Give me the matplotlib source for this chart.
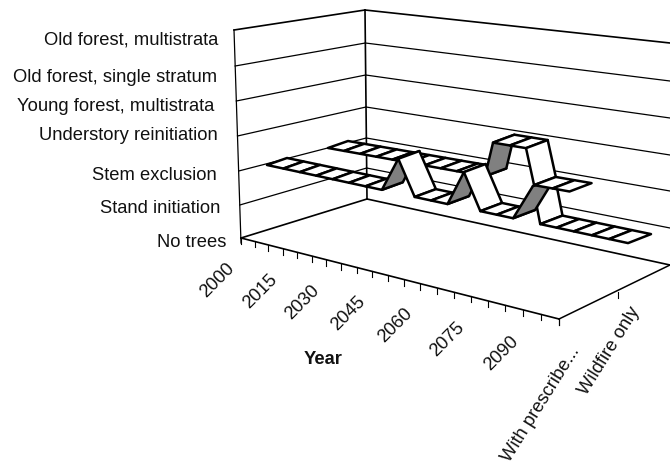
import matplotlib
matplotlib.use("Agg")
import matplotlib.pyplot as plt
import numpy as np

plt.rcParams['font.family'] = ['Liberation Sans', 'DejaVu Sans']

# successional stage per step, 2 = stem exclusion, 3 = understory reinitiation
stages = ["No trees", "Stand initiation", "Stem exclusion", "Understory reinitiation",
          "Young forest, multistrata", "Old forest, single stratum", "Old forest, multistrata"]
year_labels = ["2000", "2015", "2030", "2045", "2060", "2075", "2090"]
series_labels = ["With prescribe...", "Wildfire only"]
prescribed = [2, 2, 2, 2, 2, 2, 2, 2, 3, 2, 2, 2, 3, 2, 2, 2, 3, 2, 2, 2, 2, 2, 2]
prescribed_steps = [0, 1, 2, 3, 4, 5, 6, 7, 8, 9, 10, 11, 12, 13, 14, 15, 16.2, 16.65, 17.65, 18.7, 19.8, 20.85, 22]
wildfire = [2, 2, 2, 2, 2, 2, 2, 2, 2, 2, 3, 3, 3, 2, 2, 2]
wildfire_steps = [0, 1, 2, 3, 4, 5, 6, 7, 8, 9.75, 10.25, 11.3, 12.3, 12.8, 13.95, 15]

# layout of the fake 3d box, in pixels
left_y = [238, 205, 171, 136, 101, 66, 30]
back_y = [199, 168, 138, 107, 75, 43, 10]
right_y = [265, 228, 191, 155, 118, 81, 43]
stage_pos = [(226, 242), (220, 208), (217, 175), (218, 135), (214, 106), (217, 77), (218, 40)]
year_pos = [(217, 280), (260, 291), (302, 302), (348, 313), (395, 325), (447, 339), (501, 353)]
series_pos = [(541, 404), (609, 351)]
FS = 13.2


def ribbon(levels, steps, x0, y0, xstep, ystep):
    # quads of one ribbon, painted from first step to last
    quads = []
    for i in range(len(levels) - 1):
        pts = []
        for k, back in [(i, 0), (i + 1, 0), (i + 1, 1), (i, 1)]:
            s = steps[k]
            t = s / 22
            h = 33 + 4.5 * t
            x = x0 + xstep * s + back * (20 + 3 * t)
            y = y0 + ystep * s - (levels[k] - 2) * h - back * (7 + 2 * t)
            pts.append((x, y))
        rising = levels[i + 1] > levels[i]
        quads.append((pts, "#808080" if rising else "white"))
    return quads


fig = plt.figure(figsize=(6.7, 4.65), dpi=100)
ax = fig.add_axes([0, 0, 1, 1])
ax.set_xlim(0, 670)
ax.set_ylim(465, 0)
ax.axis("off")

# walls
for lev in range(7):
    lw = 1.2 if lev in (0, 6) else 0.9
    xl = 241 - 7 * lev / 6
    xb = 367 - 2 * lev / 6
    ax.plot([xl, xb], [left_y[lev], back_y[lev]], color="black", lw=lw, zorder=1)
    ax.plot([xb, 670], [back_y[lev], right_y[lev]], color="black", lw=lw, zorder=1)
ax.plot([241, 234], [243, 30], color="black", lw=0.9, zorder=1)
ax.plot([367, 365], [199, 10], color="black", lw=1.2, zorder=1)

# floor
ax.plot([241, 559], [238, 319], color="black", lw=1.2, zorder=1)
ax.plot([559, 670], [319, 265], color="black", lw=1.1, zorder=1)

# ticks
for k in range(21):
    x = 241 + 13.5 * k + 0.12 * k ** 2
    y = 238 + (x - 241) * 81 / 318
    ax.plot([x, x], [y, y + 6], color="black", lw=0.8, zorder=1)
for x, y in [(559, 319), (618, 292)]:
    ax.plot([x, x], [y, y + 6], color="black", lw=0.8, zorder=1)

# ribbons, the last part of the back one sits over the front one
back_quads = ribbon(wildfire, wildfire_steps, 328, 148, 16.1, 2.9)
front_quads = ribbon(prescribed, prescribed_steps, 267, 165, 16.41, 3.55)
# last grey face is painted over the drop that follows it
front_quads[15], front_quads[16] = front_quads[16], front_quads[15]
for pts, col in back_quads[:12]:
    ax.fill(*zip(*pts), facecolor=col, edgecolor="black", lw=1.8, joinstyle="round", zorder=2)
for pts, col in front_quads:
    ax.fill(*zip(*pts), facecolor=col, edgecolor="black", lw=1.8, joinstyle="round", zorder=3)
for pts, col in back_quads[12:]:
    ax.fill(*zip(*pts), facecolor=col, edgecolor="black", lw=1.8, joinstyle="round", zorder=4)

# text
for lab, (x, y) in zip(stages, stage_pos):
    ax.text(x, y, lab, ha="right", va="center", fontsize=FS, color="#111111")
for lab, (x, y) in zip(year_labels, year_pos):
    ax.text(x, y, lab, ha="center", va="center", rotation=45, rotation_mode="anchor", fontsize=FS, color="#111111")
for lab, (x, y) in zip(series_labels, series_pos):
    ax.text(x, y, lab, ha="center", va="center", rotation=58, rotation_mode="anchor", fontsize=FS, color="#111111")
ax.text(323, 359, "Year", ha="center", va="center", fontweight="bold", fontsize=FS, color="#111111")

fig.savefig("out.png", dpi=100)
